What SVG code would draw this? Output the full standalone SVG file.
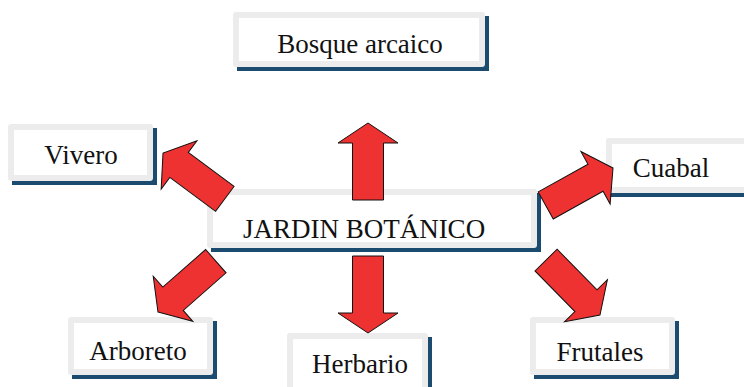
<svg xmlns="http://www.w3.org/2000/svg" width="744" height="387" viewBox="0 0 744 387">
<style>
.sh{fill:#1c4b70}
.bd{fill:#ececec}
.in{fill:#ffffff}
.t{font-family:"Liberation Serif","DejaVu Serif",serif;font-size:27px;fill:#111;text-anchor:middle}
.ar{fill:#ee3131;stroke:#111;stroke-width:1;stroke-linejoin:miter}
</style>
<defs>
<polygon id="arrow" points="0,0 -20,-30 -20,-15.5 -77,-15.5 -77,15.5 -20,15.5 -20,30"/>
</defs>
<rect width="744" height="387" fill="#fff"/>
<g id="bosque">
<rect class="sh" x="237" y="16" width="252" height="55"/>
<rect class="bd" x="233" y="12" width="252" height="55" rx="3"/>
<rect class="in" x="239" y="18" width="240" height="43"/>
<text class="t" x="360" y="53">Bosque arcaico</text>
</g>
<g id="vivero">
<rect class="sh" x="12" y="128" width="145" height="57"/>
<rect class="bd" x="8" y="124" width="145" height="57" rx="3"/>
<rect class="in" x="14" y="130" width="133" height="45"/>
<text class="t" x="81" y="164">Vivero</text>
</g>
<g id="jardin">
<rect class="sh" x="211" y="193" width="330" height="59"/>
<rect class="bd" x="207" y="189" width="330" height="59" rx="3"/>
<rect class="in" x="213" y="195" width="318" height="47"/>
<text class="t" x="364" y="238">JARDIN BOTÁNICO</text>
</g>
<g id="cuabal">
<rect class="sh" x="610" y="142" width="150" height="55"/>
<rect class="bd" x="606" y="138" width="150" height="55" rx="3"/>
<rect class="in" x="612" y="144" width="138" height="43"/>
<text class="t" x="671" y="177">Cuabal</text>
</g>
<g id="arboreto">
<rect class="sh" x="72" y="321" width="145" height="58"/>
<rect class="bd" x="68" y="317" width="145" height="58" rx="3"/>
<rect class="in" x="74" y="323" width="133" height="46"/>
<text class="t" x="138" y="360">Arboreto</text>
</g>
<g id="herbario">
<rect class="sh" x="291" y="337" width="141" height="60"/>
<rect class="bd" x="287" y="333" width="141" height="60" rx="3"/>
<rect class="in" x="293" y="339" width="129" height="48"/>
<text class="t" x="360" y="373">Herbario</text>
</g>
<g id="frutales">
<rect class="sh" x="534" y="321" width="145" height="58"/>
<rect class="bd" x="530" y="317" width="145" height="58" rx="3"/>
<rect class="in" x="536" y="323" width="133" height="46"/>
<text class="t" x="600" y="361">Frutales</text>
</g>
<g id="connectors">
<use href="#arrow" class="ar" transform="translate(368,123) rotate(-90)"/>
<use href="#arrow" class="ar" transform="translate(368,333) rotate(90)"/>
<use href="#arrow" class="ar" transform="translate(163,153) rotate(-143.4)"/>
<use href="#arrow" class="ar" transform="translate(613,168) rotate(-29.1)"/>
<use href="#arrow" class="ar" transform="translate(158,312) rotate(138.7)"/>
<use href="#arrow" class="ar" transform="translate(600,315) rotate(45.5)"/>
</g>
</svg>
